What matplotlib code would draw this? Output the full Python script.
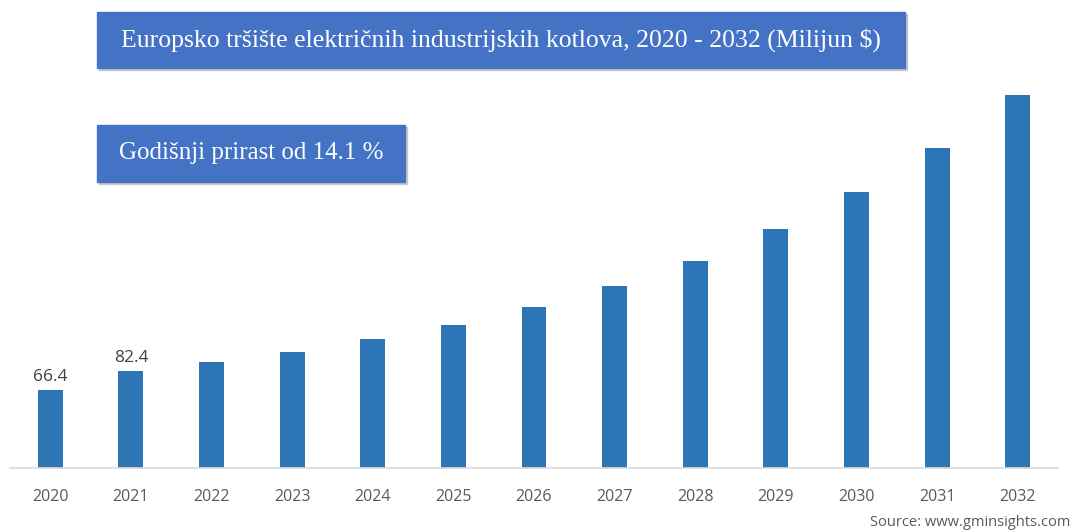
import matplotlib.pyplot as plt
from matplotlib.patches import Rectangle

# data
years = ["2020", "2021", "2022", "2023", "2024", "2025", "2026",
         "2027", "2028", "2029", "2030", "2031", "2032"]
values = [66.4, 82.4, 90.2, 99.0, 109.9, 121.9, 137.3,
          155.5, 176.9, 204.6, 236.0, 273.6, 319.0]
labelled = {0: "66.4", 1: "82.4"}

title = "Europsko tršište električnih industrijskih kotlova, 2020 - 2032 (Milijun $)"
cagr = "Godišnji prirast od 14.1 %"
source = "Source: www.gminsights.com"

bar_col = "#2E75B6"
box_col = "#4472C4"
tick_col = "#595959"

fig = plt.figure(figsize=(10.75, 5.32), dpi=100)
ax = fig.add_axes([10 / 1075, 64.3 / 532, 1048 / 1075, 397 / 532])

x = list(range(len(years)))
ax.bar(x, values, width=0.31, color=bar_col, zorder=2)
ax.set_xlim(-0.5, len(years) - 0.5)
ax.set_ylim(0, 340)

for i, txt in labelled.items():
    ax.annotate(txt, (i, values[i]), xytext=(0, 4), textcoords="offset points",
                ha="center", va="bottom", fontsize=12.5, color="#404040",
                family="Open Sans")

ax.set_xticks(x)
ax.set_xticklabels(years, fontsize=11.5, color=tick_col, family="Open Sans")
ax.tick_params(axis="x", length=0, pad=15)
ax.set_yticks([])
for s in ["top", "right", "left"]:
    ax.spines[s].set_visible(False)
ax.spines["bottom"].set_color("#d9d9d9")
ax.spines["bottom"].set_linewidth(1.2)

# title boxes (pixel coords converted to figure fraction)
def box(x0, y0, x1, y1, text, size):
    W, H = 1075, 532
    shadow = Rectangle((x0 / W + 0.002, 1 - (y1 + 2) / H), (x1 - x0) / W, (y1 - y0) / H,
                       transform=fig.transFigure, color="#c8c8c8", zorder=1)
    rect = Rectangle((x0 / W, 1 - y1 / H), (x1 - x0) / W, (y1 - y0) / H,
                     transform=fig.transFigure, color=box_col, zorder=2)
    fig.patches.extend([shadow, rect])
    fig.text((x0 + x1) / 2 / W, 1 - (y0 + y1) / 2 / H, text, ha="center", va="center",
             color="white", fontsize=size, family="Liberation Serif", zorder=3)

box(97, 12, 905, 68, title, 18.5)
box(97, 125, 405, 182, cagr, 18)

fig.text(1070 / 1075, 1 - 522 / 532, source, ha="right", va="center",
         fontsize=10.5, color=tick_col, family="Open Sans")

fig.savefig("out.png", dpi=100)
